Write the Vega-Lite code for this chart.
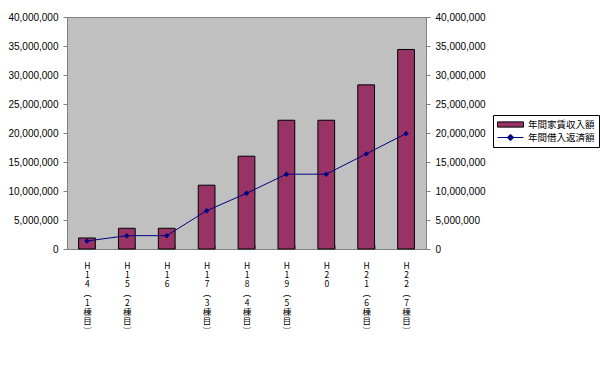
{
  "$schema": "https://vega.github.io/schema/vega-lite/v6.json",
  "autosize": "none",
  "width": 359,
  "height": 232,
  "padding": {"left": 67, "top": 17, "right": 174, "bottom": 118},
  "background": "white",
  "config": {
    "view": {"fill": "#c0c0c0", "stroke": "#808080", "strokeWidth": 1},
    "axis": {"labelFont": "Liberation Sans", "labelFontSize": 10, "labelColor": "#000000", "domainColor": "#808080", "tickColor": "#808080", "grid": false, "title": null, "labelOverlap": false}
  },
  "data": {
    "values": [
      {"period": "H14（1棟目）", "rent": 1900000, "repay": 1380000},
      {"period": "H15（2棟目）", "rent": 3570000, "repay": 2300000},
      {"period": "H16", "rent": 3570000, "repay": 2300000},
      {"period": "H17（3棟目）", "rent": 11000000, "repay": 6600000},
      {"period": "H18（4棟目）", "rent": 16000000, "repay": 9600000},
      {"period": "H19（5棟目）", "rent": 22200000, "repay": 12900000},
      {"period": "H20", "rent": 22200000, "repay": 12900000},
      {"period": "H21（6棟目）", "rent": 28300000, "repay": 16400000},
      {"period": "H22（7棟目）", "rent": 34400000, "repay": 19900000}
    ]
  },
  "encoding": {
    "x": {
      "field": "period", "type": "nominal", "sort": null,
      "scale": {"paddingInner": 0.58, "paddingOuter": 0.29},
      "axis": {
        "labelAngle": 0, "tickBand": "extent", "tickSize": -4, "labelPadding": 16,
        "labelFont": "Noto Sans CJK JP", "labelFontSize": 8.5, "labelLineHeight": 9.3,
        "labelBaseline": "top", "labelColor": "#000000",
        "labelExpr": "split(replace(replace(datum.label, '（', '︵'), '）', '︶'), '')"
      }
    }
  },
  "layer": [
    {
      "mark": {"type": "bar", "stroke": "#000000", "strokeWidth": 1},
      "encoding": {
        "y": {"field": "rent", "type": "quantitative", "scale": {"domain": [0, 40000000], "nice": false},
              "axis": {"orient": "left", "values": [0,5000000,10000000,15000000,20000000,25000000,30000000,35000000,40000000], "format": ",d", "tickSize": 4, "labelPadding": 5}},
        "color": {"datum": "年間家賃収入額", "type": "nominal",
          "scale": {"domain": ["年間家賃収入額", "年間借入返済額"], "range": ["#993366", "#000080"]},
          "legend": {
            "title": null,
            "orient": "none", "legendX": 426, "legendY": 98, "direction": "vertical",
            "strokeColor": "#000000", "padding": 4, "fillColor": "white",
            "labelFont": "Noto Sans CJK JP", "labelFontSize": 9.5, "labelColor": "#000000",
            "symbolSize": 100, "symbolOffset": 8, "labelOffset": 12, "rowPadding": 2, "symbolStrokeWidth": 1,
            "symbolType": {"expr": "datum.value === '年間家賃収入額' ? 'M-2.6,-0.52H2.6V0.52H-2.6Z' : 'M-2.6,0H2.6M0,-0.65L0.65,0L0,0.65L-0.65,0Z'"},
            "symbolStrokeColor": {"expr": "datum.value === '年間家賃収入額' ? '#000000' : '#000080'"}
          }
        }
      }
    },
    {
      "mark": {"type": "line", "strokeWidth": 1, "color": "#000080", "point": {"shape": "diamond", "filled": true, "size": 30, "color": "#000080"}},
      "encoding": {
        "y": {"field": "repay", "type": "quantitative", "scale": {"domain": [0, 40000000], "nice": false},
              "axis": {"orient": "right", "values": [0,5000000,10000000,15000000,20000000,25000000,30000000,35000000,40000000], "format": ",d", "tickSize": 4, "labelPadding": 5}}
      }
    }
  ],
  "resolve": {"scale": {"y": "independent"}}
}
